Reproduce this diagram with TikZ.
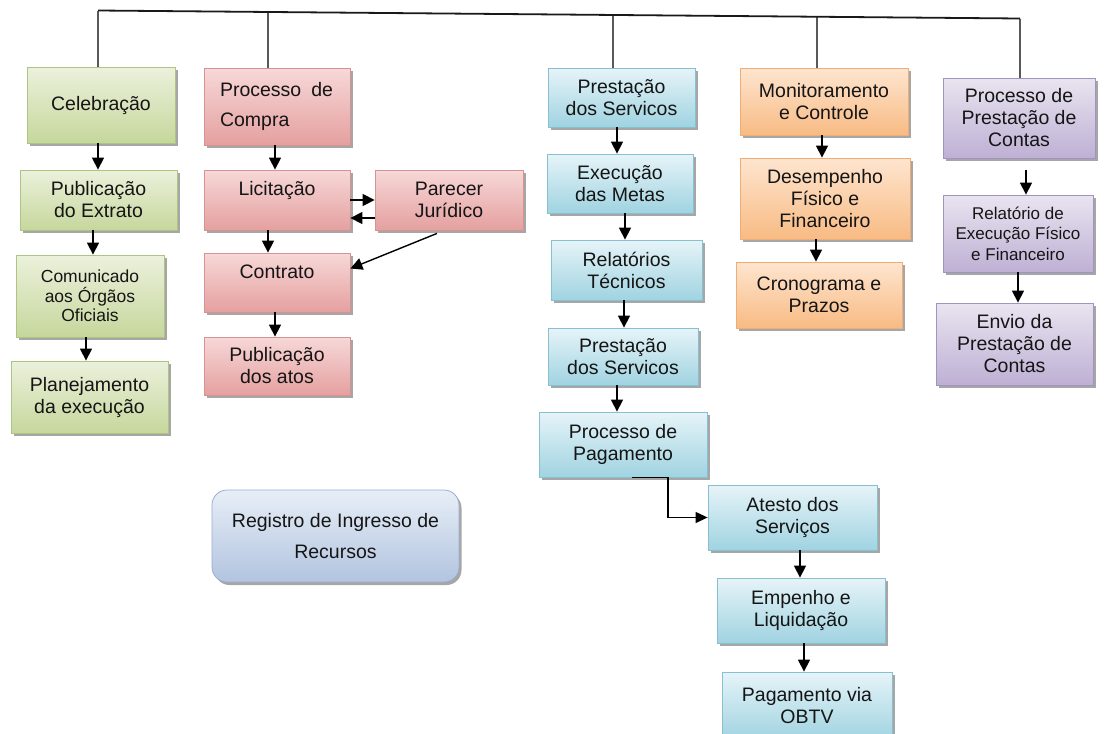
\documentclass[tikz,border=0pt]{standalone}
\usepackage{fontspec}
\setmainfont{Liberation Sans}
\usetikzlibrary{arrows.meta,shadows}
\definecolor{txt}{HTML}{151515}
\definecolor{gT}{HTML}{EBF1DC}\definecolor{gD}{HTML}{C6D79C}\definecolor{gB}{HTML}{ADC482}
\definecolor{rT}{HTML}{F7D8D8}\definecolor{rD}{HTML}{E4A09F}\definecolor{rB}{HTML}{D69391}
\definecolor{bT}{HTML}{E6F4F8}\definecolor{bD}{HTML}{A0D3E1}\definecolor{bB}{HTML}{86C0D1}
\definecolor{oT}{HTML}{FEE5CF}\definecolor{oD}{HTML}{F8BB84}\definecolor{oB}{HTML}{F2AD75}
\definecolor{pT}{HTML}{E9E4F0}\definecolor{pD}{HTML}{BEB0D4}\definecolor{pB}{HTML}{A393C0}
\definecolor{regT}{HTML}{E7EEF7}\definecolor{regD}{HTML}{B2C4E0}\definecolor{regB}{HTML}{9AAECB}
\newcommand\dnarrow[3]{\draw[arr] ([xshift=#3pt]#1.south) coordinate (tmp) -- (tmp |- #2.north);}
\begin{document}
\begin{tikzpicture}[x=1pt,y=-1pt,
  basebox/.style={rectangle, inner sep=0pt, align=center, text=txt, line width=0.8pt,
    font=\fontsize{19.5}{22}\selectfont,
    drop shadow={shadow xshift=2.5pt,shadow yshift=-3pt,fill=black,opacity=0.35}},
  gbox/.style={basebox, draw=gB, top color=gT, bottom color=gD},
  rbox/.style={basebox, draw=rB, top color=rT, bottom color=rD},
  bbox/.style={basebox, draw=bB, top color=bT, bottom color=bD},
  obox/.style={basebox, draw=oB, top color=oT, bottom color=oD},
  pbox/.style={basebox, draw=pB, top color=pT, bottom color=pD},
  regbox/.style={basebox, draw=regB, top color=regT, bottom color=regD, rounded corners=15pt},
  arr/.style={line width=1.4pt, black, -{Triangle[length=12pt,width=12pt]}},
  topline/.style={line width=1.8pt, black!90},
  vline/.style={line width=1.2pt, black!65},
  elbow/.style={line width=1.2pt, black, -{Triangle[length=12pt,width=11pt]}},
]
\useasboundingbox (0,0) rectangle (1104,734);

% green column
\node[gbox, minimum width=148pt, minimum height=76pt] (cel) at (101,105) {Celebração};
\node[gbox, minimum width=157pt, minimum height=60pt] (pub) at (98.5,200) {Publicação\\do Extrato};
\node[gbox, minimum width=148pt, minimum height=82pt, font=\fontsize{17.5}{19.5}\selectfont] (com) at (90,296) {Comunicado\\aos Órgãos\\Oficiais};
\node[gbox, minimum width=157pt, minimum height=72pt] (plan) at (89.5,397) {Planejamento\\da execução};

% red column
\node[rbox, minimum width=146pt, minimum height=77pt, text width=114pt, align=left, font=\fontsize{19.5}{30}\selectfont] (proc) at (277,106.5) {Processo\hskip 10pt de\\Compra};
\node[rbox, minimum width=146pt, minimum height=60pt] (lic) at (277,200) {Licitação\\[0pt]\vphantom{J}};
\node[rbox, minimum width=148pt, minimum height=60pt] (par) at (449,200) {Parecer\\Jurídico};
\node[rbox, minimum width=146pt, minimum height=59pt] (con) at (277,282.5) {Contrato\\[0pt]\vphantom{J}};
\node[rbox, minimum width=146pt, minimum height=58pt] (pda) at (277,366) {Publicação\\dos atos};

% blue column
\node[bbox, minimum width=147pt, minimum height=59pt] (ps1) at (621.5,97.5) {Prestação\\dos Servicos};
\node[bbox, minimum width=146pt, minimum height=59pt] (exe) at (620,183.5) {Execução\\das Metas};
\node[bbox, minimum width=151pt, minimum height=60pt] (rel) at (626.5,270) {Relatórios\\Técnicos};
\node[bbox, minimum width=150pt, minimum height=57pt] (ps2) at (623,356.5) {Prestação\\dos Servicos};
\node[bbox, minimum width=168pt, minimum height=65pt] (pag) at (623,444.5) {Processo de\\Pagamento};
\node[bbox, minimum width=169pt, minimum height=65pt] (ate) at (792.5,517.5) {Atesto dos\\Serviços};
\node[bbox, minimum width=168pt, minimum height=65pt] (emp) at (801,610.5) {Empenho e\\Liquidação};
\node[bbox, minimum width=170pt, minimum height=68pt] (obtv) at (807,706) {Pagamento via\\OBTV};

% orange column
\node[obox, minimum width=168pt, minimum height=67pt] (mon) at (824,101.5) {Monitoramento\\e Controle};
\node[obox, minimum width=170pt, minimum height=81pt] (des) at (825,198.5) {Desempenho\\Físico e\\Financeiro};
\node[obox, minimum width=166pt, minimum height=66pt] (cro) at (819,295) {Cronograma e\\Prazos};

% purple column
\node[pbox, minimum width=152pt, minimum height=80pt] (pp) at (1019,118) {Processo de\\Prestação de\\Contas};
\node[pbox, minimum width=150pt, minimum height=77pt, font=\fontsize{17}{20.5}\selectfont] (rexe) at (1018,233.5) {Relatório de\\Execução Físico\\e Financeiro};
\node[pbox, minimum width=157pt, minimum height=82pt] (env) at (1014.5,344) {Envio da\\Prestação de\\Contas};

% registro
\node[regbox, minimum width=247pt, minimum height=92pt, font=\fontsize{19.5}{31}\selectfont] (reg) at (335.5,536) {Registro de Ingresso de\\Recursos};

% top line and drops
\coordinate (t1) at (98,10.5);
\coordinate (t2) at (268,12);
\coordinate (t3) at (613,15);
\coordinate (t4) at (817,16.7);
\coordinate (t5) at (1020,18.5);
\draw[vline] (t1) -- (t1 |- cel.north);
\draw[vline] (t2) -- (t2 |- proc.north);
\draw[vline] (t3) -- (t3 |- ps1.north);
\draw[vline] (t4) -- (t4 |- mon.north);
\draw[vline] (t5) -- (t5 |- pp.north);
\draw[topline] (t1) -- (t5);

% arrows
\dnarrow{cel}{pub}{-3}
\dnarrow{pub}{com}{-5.5}
\dnarrow{com}{plan}{-4}
\dnarrow{proc}{lic}{-2}
\dnarrow{lic}{con}{-9}
\dnarrow{con}{pda}{-2}
\dnarrow{ps1}{exe}{-4.5}
\dnarrow{exe}{rel}{5}
\dnarrow{rel}{ps2}{-2.5}
\dnarrow{ps2}{pag}{-6}
\dnarrow{ate}{emp}{7.5}
\dnarrow{emp}{obtv}{3}
\dnarrow{mon}{des}{-2}
\dnarrow{des}{cro}{-9}
\draw[arr, shorten <=12pt] ([xshift=7pt]pp.south) coordinate (tmp) -- (tmp |- rexe.north);
\dnarrow{rexe}{env}{0}

\draw[arr] (lic.east) -- (lic.east -| par.west);
\draw[arr] ([yshift=-18pt]par.west) coordinate (tmp) -- (tmp -| lic.east);
\draw[arr] ([xshift=-12pt,yshift=-3pt]par.south) -- ([yshift=14pt]con.east);
\draw[elbow] ([xshift=9pt]pag.south) -- ++(36,0) |- (ate.west);
\end{tikzpicture}
\end{document}
